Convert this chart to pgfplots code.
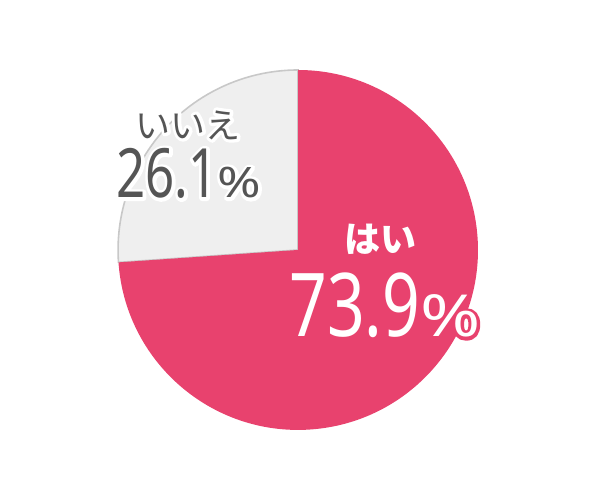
\documentclass[border=0pt]{standalone}
\usepackage{fontspec}
\setmainfont{Noto Sans}
\newfontfamily\jp{Noto Sans CJK JP}
\newfontfamily\num[FakeStretch=0.75]{Noto Sans}
\newfontfamily\pct[FakeStretch=1.25]{Noto Sans}
\usepackage{pgfplots}
\pgfplotsset{compat=1.18}
\usepackage{pgfplotstable}
\definecolor{yes}{HTML}{E8426E}
\definecolor{nofill}{HTML}{EFEFEF}
\definecolor{noline}{HTML}{C8C8C8}
\definecolor{txt}{HTML}{555555}

% text drawn with a halo: filled and stroked glyphs under the plain ones
\newcommand\halo[3]{%
  \leavevmode\rlap{\color{#1}\special{pdf:literal direct 2 Tr 3.2 w 1 j}#3\special{pdf:literal direct 0 Tr}}%
  {\color{#2}#3}}

\pgfplotstableread{
label value
yes   73.9
no    26.1
}\answers

\begin{document}
\begin{tikzpicture}
\pgfplotstablegetelem{1}{value}\of\answers \let\noval\pgfplotsretval
\pgfmathsetmacro\split{90+3.6*\noval}
\begin{axis}[
    x=90pt, y=90pt,
    xmin=-1.656, xmax=1.678,
    ymin=-1.389, ymax=1.389,
    hide axis,
    clip=false,
]
\path (axis cs:-1.656,-1.389) rectangle (axis cs:1.678,1.389);
% no slice
\filldraw[fill=nofill, draw=noline, line width=0.8pt]
    (axis cs:0,0) -- (axis cs:0,1) arc[start angle=90, end angle=\split, radius=90pt] -- cycle;
% yes slice
\fill[yes]
    (axis cs:0,0) -- (axis cs:{cos(\split)},{sin(\split)}) arc[start angle=\split, end angle=450, radius=90pt] -- cycle;

% labels
\node[anchor=center] at (axis cs:-0.611,0.694)
    {\jp\fontsize{17.5}{17.5}\selectfont\halo{white}{txt}{いいえ}};
\node[anchor=base] at (axis cs:-0.606,0.289)
    {\halo{white}{txt}{\num\fontsize{34}{34}\selectfont 26.1{\pct\fontsize{21}{21}\selectfont\%}}};
\node[anchor=center] at (axis cs:0.456,0.061)
    {\jp\bfseries\fontsize{18}{18}\selectfont\halo{yes}{white}{はい}};
\node[anchor=base] at (axis cs:0.483,-0.483)
    {\halo{yes}{white}{\num\fontsize{44}{44}\selectfont 73.9{\pct\fontsize{29}{29}\selectfont\%}}};
\end{axis}
\end{tikzpicture}
\end{document}
